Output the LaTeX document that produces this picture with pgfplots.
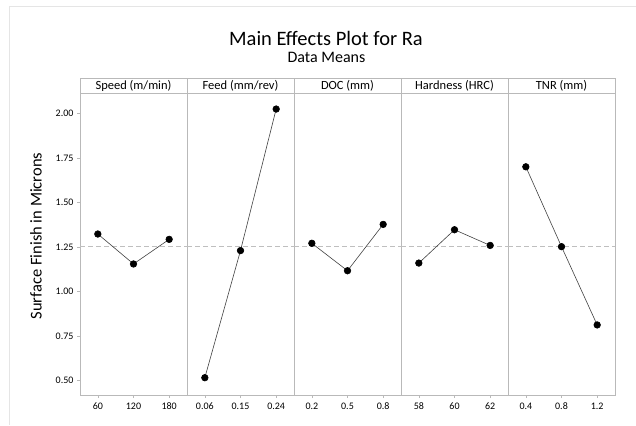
\documentclass[border=0pt]{standalone}
\usepackage{fontspec}
\setmainfont{Carlito}
\usepackage{pgfplots}
\pgfplotsset{compat=1.18}

\pgfplotsset{
  mepanel/.style={
    scale only axis, width=107pt, height=302pt,
    anchor=south west,
    xmin=0.5, xmax=3.5, ymin=0.42, ymax=2.114,
    xtick={1,2,3},
    axis line style={gray!55, line width=0.6pt},
    tick style={gray!55, line width=0.6pt},
    tick align=outside, major tick length=3pt,
    xtick pos=bottom, ytick pos=left,
    ytick={0.5,0.75,1,1.25,1.5,1.75,2},
    /pgf/number format/assume math mode=true,
    yticklabel style={font=\fontsize{10}{12}\selectfont, text=black,
      /pgf/number format/.cd, fixed, fixed zerofill, precision=2},
    xticklabel style={font=\fontsize{10}{12}\selectfont, text=black, yshift=-1pt},
    clip=false,
  },
  meanline/.style={gray!50, line width=0.6pt, dash pattern=on 5pt off 3pt, forget plot},
  pts/.style={black!75, line width=0.6pt, mark=*, mark size=3.3pt,
    mark options={fill=black, draw=black}},
}

\begin{document}
\begin{tikzpicture}[x=1pt,y=1pt]
\useasboundingbox (0,0) rectangle (636,425);
\draw[gray!20, line width=1pt] (9,0) -- (9,418) -- (636,418);

% Speed
\begin{axis}[mepanel, at={(80pt,30pt)}, xticklabels={60,120,180}]
\addplot[meanline] coordinates {(0.5,1.255) (3.5,1.255)};
\addplot[pts] coordinates {(1,1.323) (2,1.155) (3,1.293)};
\end{axis}
% Feed
\begin{axis}[mepanel, at={(187pt,30pt)}, ytick=\empty, xticklabels={0.06,0.15,0.24}]
\addplot[meanline] coordinates {(0.5,1.255) (3.5,1.255)};
\addplot[pts] coordinates {(1,0.517) (2,1.230) (3,2.024)};
\end{axis}
% DOC
\begin{axis}[mepanel, at={(294pt,30pt)}, ytick=\empty, xticklabels={0.2,0.5,0.8}]
\addplot[meanline] coordinates {(0.5,1.255) (3.5,1.255)};
\addplot[pts] coordinates {(1,1.271) (2,1.117) (3,1.377)};
\end{axis}
% Hardness
\begin{axis}[mepanel, at={(401pt,30pt)}, ytick=\empty, xticklabels={58,60,62}]
\addplot[meanline] coordinates {(0.5,1.255) (3.5,1.255)};
\addplot[pts] coordinates {(1,1.160) (2,1.347) (3,1.259)};
\end{axis}
% TNR
\begin{axis}[mepanel, at={(508pt,30pt)}, ytick=\empty, xticklabels={0.4,0.8,1.2}]
\addplot[meanline] coordinates {(0.5,1.255) (3.5,1.255)};
\addplot[pts] coordinates {(1,1.700) (2,1.252) (3,0.813)};
\end{axis}

% header strip
\draw[gray!55, line width=0.6pt] (80,332) rectangle (615,347);
\foreach \xx in {187,294,401,508} \draw[gray!55, line width=0.6pt] (\xx,332) -- (\xx,347);
\foreach \xx/\lab in {133.5/{Speed (m/min)}, 240.5/{Feed (mm/rev)}, 347.5/{DOC (mm)}, 454.5/{Hardness (HRC)}, 561.5/{TNR (mm)}}
  \node[font=\fontsize{12.5}{14}\selectfont, text=black, inner sep=0pt] at (\xx,339.5) {\lab};

% titles
\node[font=\fontsize{20.5}{24}\selectfont, text=black, inner sep=0pt] at (326,387) {Main Effects Plot for Ra};
\node[font=\fontsize{16}{19}\selectfont, text=black, inner sep=0pt] at (326.5,368) {Data Means};
\node[font=\fontsize{16.5}{19}\selectfont, text=black, inner sep=0pt, rotate=90] at (36,189) {Surface Finish in Microns};
\end{tikzpicture}
\end{document}
